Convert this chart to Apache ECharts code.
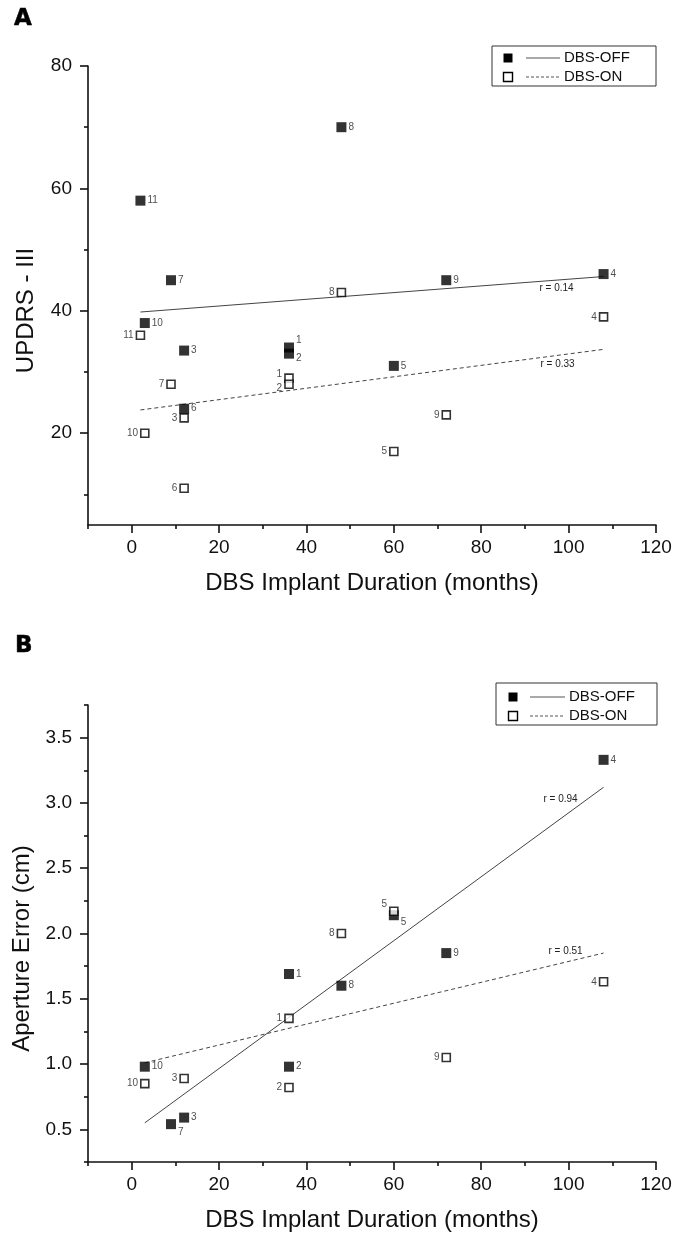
<!DOCTYPE html>
<html>
<head>
<meta charset="utf-8">
<script src="https://cdn.jsdelivr.net/npm/echarts@6/dist/echarts.min.js"></script>
<style>
  html, body { margin: 0; padding: 0; background: #fff; }
  #chart { width: 675px; height: 1238px; }
</style>
</head>
<body>
<div id="chart"></div>
<script>
// patients and their values
const patientIds = [1, 2, 3, 4, 5, 6, 7, 8, 9, 10, 11];
const implantMonths = [36, 36, 12, 108, 60, 12, 9, 48, 72, 3, 2];
const updrsOff = [34, 33, 33.5, 46, 31, 24, 45, 70, 45, 38, 58];
const updrsOn = [29, 28, 22.5, 39, 17, 11, 28, 43, 23, 20, 36];
const apertureOff = [1.69, 0.98, 0.59, 3.33, 2.14, null, 0.54, 1.6, 1.85, 0.98, null];
const apertureOn = [1.35, 0.82, 0.89, 1.63, 2.17, null, null, 2.0, 1.05, 0.85, null];

// fitted lines (start / end)
const fitRangeA = [2, 108];
const fitUpdrsOff = [39.8, 45.6];
const fitUpdrsOn = [23.8, 33.7];
const fitRangeB = [3, 108];
const fitApertureOff = [0.55, 3.12];
const fitApertureOn = [1.01, 1.85];
const rUpdrs = ['0.14', '0.33'];
const rAperture = ['0.94', '0.51'];

// ticks
const xTicksMajor = [0, 20, 40, 60, 80, 100, 120];
const xTicksMinor = [-10, 10, 30, 50, 70, 90, 110];
const updrsTicksMajor = [20, 40, 60, 80];
const updrsTicksMinor = [10, 30, 50, 70];
const apertureTicksMajor = [0.5, 1.0, 1.5, 2.0, 2.5, 3.0, 3.5];
const apertureTicksMinor = [0.25, 0.75, 1.25, 1.75, 2.25, 2.75, 3.25, 3.75];

// vertical nudge of the little number labels (so overlapping ones stay readable)
const nudgeUpdrsOff = [-7, 5, 0, 0, 0, 0, 0, 0, 0, 0, 0];
const nudgeUpdrsOn = [-4, 4, 0, 0, 0, 0, 0, 0, 0, 0, 0];
const nudgeApertureOff = [0, 0, 0, 0, 7, 0, 8, 0, 0, 0, 0];
const nudgeApertureOn = [0, 0, 0, 0, -7, 0, 0, 0, 0, 0, 0];

const FONT = 'Liberation Sans, Arial, sans-serif';
const INK = '#111';

function points(ys, nudge) {
  const out = [];
  patientIds.forEach(function (id, i) {
    if (ys[i] == null) return;
    out.push({name: String(id), value: [implantMonths[i], ys[i]], label: {offset: [0, nudge[i]]}});
  });
  return out;
}

function scatter(g, ys, nudge, filled) {
  return {
    type: 'scatter',
    xAxisIndex: g * 2,
    yAxisIndex: g * 2,
    symbol: 'rect',
    symbolSize: filled ? 10 : 8,
    itemStyle: filled
        ? {color: '#000'}
        : {color: '#fff', borderColor: '#000', borderWidth: 1.6},
    label: {
      show: true,
      position: filled ? 'right' : 'left',
      distance: 2,
      formatter: '{b}',
      fontSize: 10,
      fontFamily: FONT,
      color: '#222'
    },
    z: filled ? 5 : 6,
    silent: true,
    data: points(ys, nudge)
  };
}

function fitLine(g, range, ys, r, dashed, labelOffset) {
  return {
    type: 'line',
    xAxisIndex: g * 2,
    yAxisIndex: g * 2,
    symbol: 'circle',
    symbolSize: 0.1,
    showSymbol: true,
    itemStyle: {color: 'rgba(0,0,0,0)'},
    lineStyle: {color: '#444', width: 1, type: dashed ? [4, 3] : 'solid'},
    z: 3,
    silent: true,
    data: [
      [range[0], ys[0]],
      {
        value: [range[1], ys[1]],
        label: {
          show: true,
          formatter: 'r = ' + r,
          position: 'inside',
          offset: labelOffset,
          fontSize: 10,
          fontFamily: FONT,
          color: '#222'
        }
      }
    ]
  };
}

const axisLineStyle = {color: INK, width: 1.6};

function xAxes(g) {
  return [
    {
      gridIndex: g, type: 'value', position: 'bottom', min: -10, max: 120,
      name: 'DBS Implant Duration (months)', nameLocation: 'middle', nameGap: 46,
      nameTextStyle: {fontSize: 24, fontFamily: FONT, color: INK},
      axisLine: {show: true, onZero: false, lineStyle: axisLineStyle},
      axisTick: {show: true, length: 8, customValues: xTicksMajor, lineStyle: axisLineStyle},
      axisLabel: {customValues: xTicksMajor, fontSize: 19, margin: 13, fontFamily: FONT, color: INK},
      splitLine: {show: false}
    },
    {
      gridIndex: g, type: 'value', position: 'bottom', min: -10, max: 120,
      axisLine: {show: false, onZero: false},
      axisTick: {show: true, length: 4, customValues: xTicksMinor, lineStyle: axisLineStyle},
      axisLabel: {show: false},
      splitLine: {show: false}
    }
  ];
}

function yAxes(g, name, min, max, major, minor, fmt) {
  return [
    {
      gridIndex: g, type: 'value', position: 'left', min: min, max: max,
      name: name, nameLocation: 'middle', nameGap: 50, nameRotate: 90,
      // pushes the rotated title a little below the axis middle, as in the original
      nameTextStyle: {fontSize: 24, fontFamily: FONT, color: INK, padding: [0, 30, 0, 0]},
      axisLine: {show: true, onZero: false, lineStyle: axisLineStyle},
      axisTick: {show: true, length: 8, customValues: major, lineStyle: axisLineStyle},
      axisLabel: {customValues: major, fontSize: 19, margin: 16, fontFamily: FONT, color: INK, formatter: fmt},
      splitLine: {show: false}
    },
    {
      gridIndex: g, type: 'value', position: 'left', min: min, max: max,
      axisLine: {show: false, onZero: false},
      axisTick: {show: true, length: 4, customValues: minor, lineStyle: axisLineStyle},
      axisLabel: {show: false},
      splitLine: {show: false}
    }
  ];
}

function legendBox(x, y, w, h, sqX, rowYs, lineX0, lineX1, textX) {
  const els = [{
    type: 'rect', shape: {x: x, y: y, width: w, height: h},
    style: {fill: '#fff', stroke: '#333', lineWidth: 1}
  }];
  const names = ['DBS-OFF', 'DBS-ON'];
  rowYs.forEach(function (ry, i) {
    els.push({
      type: 'rect', shape: {x: sqX - 4.5, y: ry - 4.5, width: 9, height: 9},
      style: i === 0 ? {fill: '#000'} : {fill: '#fff', stroke: '#000', lineWidth: 1.4}
    });
    els.push({
      type: 'line', shape: {x1: lineX0, y1: ry, x2: lineX1, y2: ry},
      style: {stroke: '#555', lineWidth: 1, lineDash: i === 0 ? null : [3, 2]}
    });
    els.push({
      type: 'text', x: textX, y: ry,
      style: {text: names[i], fontSize: 15, fontFamily: FONT, fill: INK, verticalAlign: 'middle'}
    });
  });
  return els;
}

const chart = echarts.init(document.getElementById('chart'), null, {renderer: 'canvas'});

chart.setOption({
  animation: false,
  backgroundColor: '#fff',
  grid: [
    {left: 88, top: 66, width: 568, height: 459},
    {left: 88, top: 705, width: 568, height: 457}
  ],
  xAxis: xAxes(0).concat(xAxes(1)),
  yAxis: yAxes(0, 'UPDRS - III', 5, 80, updrsTicksMajor, updrsTicksMinor, function (v) { return String(v); })
      .concat(yAxes(1, 'Aperture Error (cm)', 0.25, 3.75, apertureTicksMajor, apertureTicksMinor,
          function (v) { return v.toFixed(1); })),
  series: [
    fitLine(0, fitRangeA, fitUpdrsOff, rUpdrs[0], false, [-47, 12]),
    fitLine(0, fitRangeA, fitUpdrsOn, rUpdrs[1], true, [-46, 15]),
    scatter(0, updrsOff, nudgeUpdrsOff, true),
    scatter(0, updrsOn, nudgeUpdrsOn, false),
    fitLine(1, fitRangeB, fitApertureOff, rAperture[0], false, [-43, 12]),
    fitLine(1, fitRangeB, fitApertureOn, rAperture[1], true, [-38, -2]),
    scatter(1, apertureOff, nudgeApertureOff, true),
    scatter(1, apertureOn, nudgeApertureOn, false)
  ],
  graphic: [
    {type: 'text', x: 14, y: 8, style: {text: 'A', fontSize: 23, fontWeight: 'bold', fontFamily: 'DejaVu Sans', fill: '#000', stroke: '#000', lineWidth: 0.5}},
    {type: 'text', x: 15, y: 635, style: {text: 'B', fontSize: 23, fontWeight: 'bold', fontFamily: 'DejaVu Sans', fill: '#000', stroke: '#000', lineWidth: 0.5}}
  ].concat(legendBox(492, 46, 164, 40, 508, [58, 77], 526, 560, 564))
      .concat(legendBox(496, 683, 161, 42, 513, [697, 716], 530, 565, 569))
});
</script>
</body>
</html>
